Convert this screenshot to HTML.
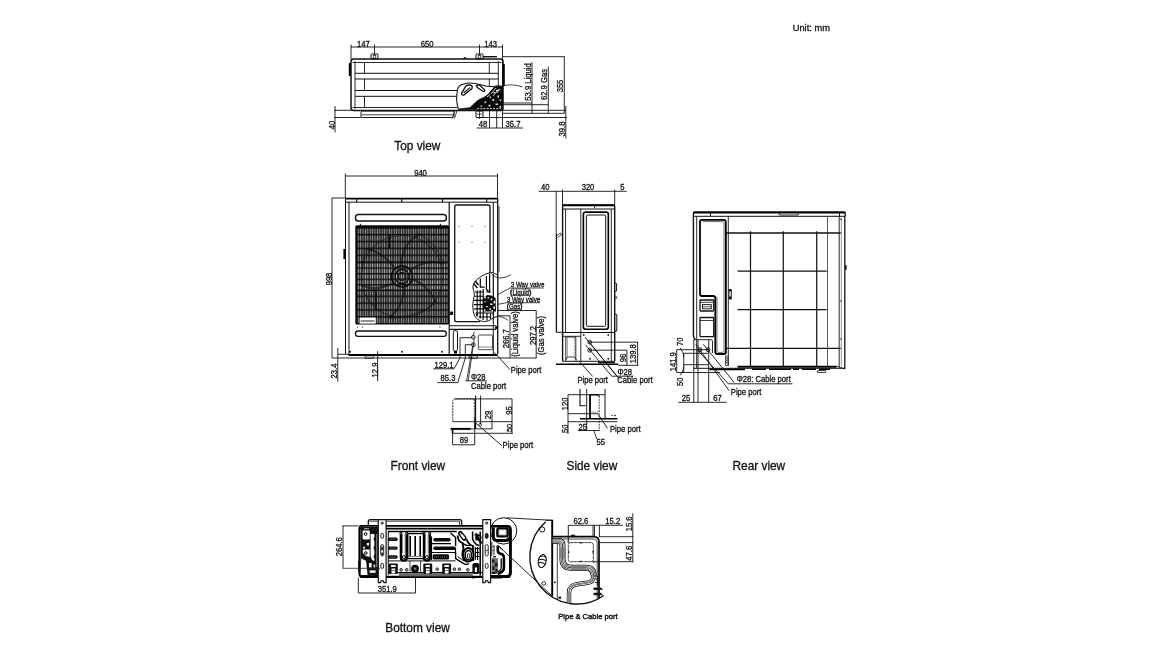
<!DOCTYPE html>
<html><head><meta charset="utf-8"><title>Dimensions</title>
<style>
html,body{margin:0;padding:0;background:#fff;}
body{width:1170px;height:649px;overflow:hidden;font-family:"Liberation Sans",sans-serif;}
svg{display:block;filter:grayscale(1);}
svg text{font-family:"Liberation Sans",sans-serif;fill:#111;}
</style></head><body>
<svg width="1170" height="649" viewBox="0 0 1170 649">
<rect x="0" y="0" width="1170" height="649" fill="#fff"/>
<g opacity="0.999">
<g id="labels">
<text x="792.7" y="30.7" font-size="9.3" text-anchor="start" stroke="#111" stroke-width="0.3" >Unit: mm</text>
<text x="394.3" y="149.8" font-size="11.85" text-anchor="start" stroke="#111" stroke-width="0.3" >Top view</text>
<text x="390.5" y="470" font-size="11.85" text-anchor="start" stroke="#111" stroke-width="0.3" >Front view</text>
<text x="566.5" y="470" font-size="11.85" text-anchor="start" stroke="#111" stroke-width="0.3" >Side view</text>
<text x="732.5" y="470" font-size="11.85" text-anchor="start" stroke="#111" stroke-width="0.3" >Rear view</text>
<text x="385.3" y="631.7" font-size="11.85" text-anchor="start" stroke="#111" stroke-width="0.3" >Bottom view</text>
<text x="558.2" y="619" font-size="7.6" stroke="#111" stroke-width="0.4" textLength="59.4" lengthAdjust="spacingAndGlyphs">Pipe &amp; Cable port</text>
</g>
<g id="top">
<line x1="351" y1="47" x2="503" y2="47" stroke="#111" stroke-width="0.9" />
<line x1="351" y1="44.5" x2="351" y2="59" stroke="#111" stroke-width="0.9" />
<line x1="374.5" y1="44.5" x2="374.5" y2="55" stroke="#111" stroke-width="0.9" />
<line x1="479.5" y1="44.5" x2="479.5" y2="55" stroke="#111" stroke-width="0.9" />
<line x1="502.5" y1="44.5" x2="502.5" y2="128" stroke="#111" stroke-width="0.9" />
<text transform="translate(363.4 46.5) scale(0.912 1)" font-size="8.40" text-anchor="middle" stroke="#111" stroke-width="0.3" >147</text>
<text transform="translate(427.2 46.5) scale(0.912 1)" font-size="8.40" text-anchor="middle" stroke="#111" stroke-width="0.3" >650</text>
<text transform="translate(490.6 46.5) scale(0.912 1)" font-size="8.40" text-anchor="middle" stroke="#111" stroke-width="0.3" >143</text>
<rect x="371" y="54" width="7" height="5" rx="0.5" stroke="#111" stroke-width="1.0" fill="none" />
<rect x="373.2" y="55.5" width="2.6" height="2.6" rx="0" stroke="#111" stroke-width="0.7" fill="none" />
<rect x="476" y="54" width="7" height="5" rx="0.5" stroke="#111" stroke-width="1.0" fill="none" />
<rect x="478.2" y="55.5" width="2.6" height="2.6" rx="0" stroke="#111" stroke-width="0.7" fill="none" />
<path d="M463.5 59 q1.5 -3 3 0" stroke="#111" stroke-width="1.2" fill="none" />
<line x1="483" y1="56.7" x2="497" y2="56.7" stroke="#111" stroke-width="1.4" />
<rect x="351" y="59" width="152" height="51.5" rx="2.5" stroke="#111" stroke-width="1.5" fill="none" />
<line x1="352.5" y1="62.5" x2="501.5" y2="62.5" stroke="#111" stroke-width="0.9" />
<line x1="352.5" y1="107.5" x2="457" y2="107.5" stroke="#111" stroke-width="0.9" />
<line x1="355" y1="61" x2="355" y2="109" stroke="#111" stroke-width="0.9" />
<line x1="498.3" y1="61" x2="498.3" y2="86" stroke="#111" stroke-width="0.9" />
<line x1="355" y1="73.3" x2="498.3" y2="73.3" stroke="#111" stroke-width="1.0" />
<line x1="355" y1="79" x2="498.3" y2="79" stroke="#111" stroke-width="1.0" />
<line x1="355" y1="90.5" x2="457.5" y2="90.5" stroke="#111" stroke-width="1.0" />
<line x1="355" y1="96.3" x2="457.5" y2="96.3" stroke="#111" stroke-width="1.0" />
<line x1="364.5" y1="62.5" x2="364.5" y2="73.3" stroke="#111" stroke-width="0.9" />
<line x1="364.5" y1="79" x2="364.5" y2="90.5" stroke="#111" stroke-width="0.9" />
<line x1="364.5" y1="96.3" x2="364.5" y2="107.5" stroke="#111" stroke-width="0.9" />
<line x1="489.3" y1="62.5" x2="489.3" y2="73.3" stroke="#111" stroke-width="0.9" />
<line x1="489.3" y1="79" x2="489.3" y2="86" stroke="#111" stroke-width="0.9" />
<line x1="349.8" y1="63" x2="349.8" y2="76" stroke="#000" stroke-width="2.0" />
<line x1="503.8" y1="64" x2="503.8" y2="86" stroke="#000" stroke-width="2.0" />
<rect x="361" y="111" width="93" height="6.5" rx="1.5" stroke="#111" stroke-width="1.0" fill="none" />
<line x1="362" y1="114.8" x2="453" y2="114.8" stroke="#111" stroke-width="0.8" />
<line x1="455" y1="110.5" x2="452" y2="118.5" stroke="#111" stroke-width="0.8" />
<line x1="457" y1="110.5" x2="454.5" y2="118.5" stroke="#111" stroke-width="0.8" />
<line x1="334" y1="110.3" x2="351" y2="110.3" stroke="#111" stroke-width="0.9" />
<line x1="334" y1="117.5" x2="361" y2="117.5" stroke="#111" stroke-width="0.9" />
<line x1="335" y1="106" x2="335" y2="132.5" stroke="#111" stroke-width="0.9" />
<text transform="translate(331.5 125) rotate(-90) scale(0.912 1)" font-size="8.40" text-anchor="middle" dy="3.02" stroke="#111" stroke-width="0.3" >40</text>
<path d="M457.5 90 C458 86 461 84.5 463.5 84 C468 82.5 474 82.8 481.7 85 C486 86.3 490 87 494 86.3 C497 85.7 500 85.6 502.5 86.5 L502.5 109.3 L458.5 109.3 C456.5 104 456.3 96 457.5 90 Z" stroke="#111" stroke-width="1.1" fill="#fff" />
<path d="M459.5 109 L470 107.6 C474 104 477 100 481 98.6 C485 97 488 95 490 92 C491 89 493 87.6 496 86.6 L502.3 86.4 L502.3 109.2 Z" stroke="#000" stroke-width="0.5" fill="#0a0a0a" />
<path d="M489 92 l4 -4 M491 94 l5 -6 M493 96 l6 -7 M487 97 l3 -2.6 M497 93 l3 -4" stroke="#fff" stroke-width="0.8" fill="none" />
<path d="M461.6 93.2 L466.2 85.6 Q470 84.2 472.2 86.2 L472 88.6 L464 95 Q461 95.6 461.6 93.2 Z" stroke="#111" stroke-width="1.3" fill="#fff" />
<path d="M463.6 93 L470 87.6" stroke="#111" stroke-width="1.2" fill="none" />
<path d="M476.4 85.6 Q478.4 84.2 480 85.6 L484.6 89.8 Q485 92 482.8 91.2 L477.4 87.6 Z" stroke="#111" stroke-width="1.3" fill="#fff" />
<line x1="477" y1="108.5" x2="501" y2="108.5" stroke="#fff" stroke-width="0.7" stroke-dasharray="2 1.2"/>
<rect x="484.5" y="101.5" width="1.6" height="1.6" fill="#fff" opacity="0.92"/>
<rect x="488.5" y="104.8" width="2" height="1.6" fill="#fff" opacity="0.92"/>
<rect x="492.5" y="99" width="1.6" height="2" fill="#fff" opacity="0.92"/>
<rect x="495.5" y="103.5" width="2.4" height="1.4" fill="#fff" opacity="0.92"/>
<rect x="497.5" y="95.5" width="1.5" height="2" fill="#fff" opacity="0.92"/>
<rect x="493.5" y="92" width="1.8" height="1.2" fill="#fff" opacity="0.92"/>
<rect x="489.5" y="96.5" width="1.4" height="1.4" fill="#fff" opacity="0.92"/>
<rect x="480.5" y="105.5" width="1.6" height="1.2" fill="#fff" opacity="0.92"/>
<rect x="499.5" y="106" width="1.6" height="1.6" fill="#fff" opacity="0.92"/>
<rect x="496" y="90" width="2" height="1" fill="#fff" opacity="0.92"/>
<rect x="499.8" y="99.5" width="1.4" height="1.6" fill="#fff" opacity="0.92"/>
<rect x="476" y="111" width="7" height="6.5" rx="0.5" stroke="#111" stroke-width="1.0" fill="none" />
<line x1="479.5" y1="109.5" x2="479.5" y2="119" stroke="#111" stroke-width="0.8" />
<line x1="477" y1="114.2" x2="482" y2="114.2" stroke="#111" stroke-width="0.7" />
<line x1="502.5" y1="56.7" x2="564.7" y2="56.7" stroke="#111" stroke-width="0.9" />
<line x1="564.3" y1="56.7" x2="564.3" y2="113.3" stroke="#111" stroke-width="0.9" />
<line x1="565.8" y1="106" x2="565.8" y2="138.3" stroke="#111" stroke-width="0.9" />
<text transform="translate(560.3 86) rotate(-90) scale(0.912 1)" font-size="8.40" text-anchor="middle" dy="3.02" stroke="#111" stroke-width="0.3" >355</text>
<line x1="548.3" y1="66.7" x2="548.3" y2="113.3" stroke="#111" stroke-width="0.9" />
<text transform="translate(544 84.5) rotate(-90) scale(0.912 1)" font-size="8.40" text-anchor="middle" dy="3.02" stroke="#111" stroke-width="0.3" >62.9 Gas</text>
<line x1="532" y1="62" x2="532" y2="113.3" stroke="#111" stroke-width="0.9" />
<text transform="translate(528 82) rotate(-90) scale(0.912 1)" font-size="8.40" text-anchor="middle" dy="3.02" stroke="#111" stroke-width="0.3" >53.9 Liquid</text>
<line x1="502.5" y1="103" x2="532" y2="103" stroke="#111" stroke-width="0.9" />
<line x1="502.5" y1="104.7" x2="548.3" y2="104.7" stroke="#111" stroke-width="0.9" />
<line x1="476" y1="110.3" x2="566" y2="110.3" stroke="#111" stroke-width="0.9" />
<line x1="502.5" y1="113.3" x2="564.5" y2="113.3" stroke="#111" stroke-width="0.9" />
<line x1="476" y1="117.5" x2="566.7" y2="117.5" stroke="#111" stroke-width="0.9" />
<line x1="489.5" y1="110.5" x2="489.5" y2="128" stroke="#111" stroke-width="0.9" />
<line x1="496.7" y1="110.5" x2="496.7" y2="128" stroke="#111" stroke-width="0.9" />
<line x1="476.7" y1="128" x2="523" y2="128" stroke="#111" stroke-width="0.9" />
<text transform="translate(483 127.1) scale(0.912 1)" font-size="8.40" text-anchor="middle" stroke="#111" stroke-width="0.3" >48</text>
<text transform="translate(513 127.1) scale(0.912 1)" font-size="8.40" text-anchor="middle" stroke="#111" stroke-width="0.3" >35.7</text>
<text transform="translate(561.7 129) rotate(-90) scale(0.912 1)" font-size="8.40" text-anchor="middle" dy="3.02" stroke="#111" stroke-width="0.3" >39.8</text>
<path d="M502.5 86 C509 84.2 516 84.8 522.5 86.8" stroke="#111" stroke-width="0.8" fill="none" />
</g>
<g id="front">
<line x1="345.3" y1="176" x2="497.5" y2="176" stroke="#111" stroke-width="0.9" />
<line x1="345.3" y1="173.5" x2="345.3" y2="198" stroke="#111" stroke-width="0.9" />
<line x1="497.5" y1="173.5" x2="497.5" y2="198" stroke="#111" stroke-width="0.9" />
<text transform="translate(420.5 175.7) scale(0.912 1)" font-size="8.40" text-anchor="middle" stroke="#111" stroke-width="0.3" >940</text>
<line x1="332" y1="198" x2="345.3" y2="198" stroke="#111" stroke-width="0.9" />
<line x1="332" y1="198" x2="332" y2="358" stroke="#111" stroke-width="0.9" />
<text transform="translate(328.5 279) rotate(-90) scale(0.912 1)" font-size="8.40" text-anchor="middle" dy="3.02" stroke="#111" stroke-width="0.3" >998</text>
<line x1="332" y1="358" x2="536.7" y2="358" stroke="#111" stroke-width="0.9" />
<line x1="337.8" y1="348" x2="337.8" y2="381.6" stroke="#111" stroke-width="0.9" />
<text transform="translate(334 371) rotate(-90) scale(0.912 1)" font-size="8.40" text-anchor="middle" dy="3.02" stroke="#111" stroke-width="0.3" >23.4</text>
<line x1="377.6" y1="351.2" x2="377.6" y2="381.2" stroke="#111" stroke-width="0.9" />
<text transform="translate(374.6 370) rotate(-90) scale(0.912 1)" font-size="8.40" text-anchor="middle" dy="3.02" stroke="#111" stroke-width="0.3" >12.9</text>
<line x1="345.3" y1="198.6" x2="497.5" y2="198.6" stroke="#000" stroke-width="1.7" />
<line x1="345.3" y1="202.2" x2="497.5" y2="202.2" stroke="#111" stroke-width="1.0" />
<line x1="356.7" y1="198.5" x2="356.7" y2="202.2" stroke="#111" stroke-width="1.2" />
<line x1="401.7" y1="198.5" x2="401.7" y2="202.2" stroke="#111" stroke-width="1.2" />
<line x1="442.5" y1="198.5" x2="442.5" y2="202.2" stroke="#111" stroke-width="1.2" />
<line x1="486.7" y1="198.5" x2="486.7" y2="202.2" stroke="#111" stroke-width="1.2" />
<line x1="345.5" y1="198" x2="345.5" y2="354" stroke="#111" stroke-width="1.0" />
<line x1="349" y1="202" x2="349" y2="354" stroke="#111" stroke-width="1.0" />
<line x1="493.3" y1="202" x2="493.3" y2="354" stroke="#111" stroke-width="1.0" />
<line x1="497.7" y1="198" x2="497.7" y2="354" stroke="#111" stroke-width="1.3" />
<line x1="499" y1="206" x2="499" y2="272" stroke="#111" stroke-width="0.8" />
<line x1="344.3" y1="249" x2="344.3" y2="259" stroke="#000" stroke-width="1.8" />
<line x1="348.5" y1="355" x2="497.5" y2="355" stroke="#000" stroke-width="2.1" />
<line x1="337.8" y1="354.3" x2="349" y2="354.3" stroke="#111" stroke-width="0.9" />
<rect x="365.2" y="355.8" width="8.4" height="2.5" rx="0.3" stroke="#111" stroke-width="0.8" fill="none" />
<rect x="469" y="355.8" width="8.4" height="2.5" rx="0.3" stroke="#111" stroke-width="0.8" fill="none" />
<rect x="355.5" y="214.5" width="90.8" height="6.5" rx="2.8" stroke="#111" stroke-width="1.4" fill="none" />
<rect x="355.5" y="331" width="90.8" height="5.4" rx="2.4" stroke="#111" stroke-width="1.3" fill="none" />
<rect x="349.2" y="351" width="1.6" height="1.6" fill="#000"/>
<rect x="401.2" y="351" width="1.6" height="1.6" fill="#000"/>
<rect x="441.2" y="351" width="1.6" height="1.6" fill="#000"/>
<rect x="357.0" y="326.7" width="1" height="1" fill="#222"/>
<rect x="362.0" y="326.7" width="1" height="1" fill="#222"/>
<rect x="439.5" y="326.7" width="1" height="1" fill="#222"/>
<line x1="360.5" y1="223.8" x2="360.5" y2="226" stroke="#111" stroke-width="1.2" />
<line x1="440.5" y1="223.8" x2="440.5" y2="226" stroke="#111" stroke-width="1.2" />
<defs><pattern id="gr" x="357.0" y="227.1" width="2.4" height="6.85" patternUnits="userSpaceOnUse"><rect x="0.62" y="1.4" width="1.16" height="5.4" fill="#fff"/></pattern><clipPath id="grc"><rect x="355.3" y="225.3" width="93.9" height="99.1" rx="1.5"/></clipPath></defs>
<rect x="355.3" y="225.3" width="93.9" height="99.1" rx="1.5" fill="#0b0b0b"/>
<rect x="357.2" y="228.4" width="90.8" height="95" fill="url(#gr)" opacity="0.6"/>
<defs><pattern id="gr2" x="357.0" y="261.9" width="2.4" height="5.56" patternUnits="userSpaceOnUse"><rect x="0.6" y="1.35" width="1.2" height="4.2" fill="#fff"/></pattern></defs>
<rect x="357" y="261.9" width="91.2" height="29.2" fill="#0b0b0b"/>
<rect x="357.2" y="261.9" width="90.8" height="27.8" fill="url(#gr2)" opacity="0.72"/>
<g clip-path="url(#grc)" fill="none" stroke="#0c0c0c">
<circle cx="402" cy="276.5" r="10.5" stroke-width="1.6"/><circle cx="402" cy="276.5" r="7" stroke-width="1.3"/><circle cx="402" cy="276.5" r="3.8" stroke-width="1.2"/>
<circle cx="402" cy="276.5" r="41" stroke-width="1.2" opacity="0.5"/>
<path d="M394 267 C385 256 376 250 366 249 M401 265.5 C401 252 408 240 420 234 M410 270 C422 262 434 260 444 264 M411.5 279 C423 283 431 291 436 303 M404 286.5 C405 298 399 310 389 318 M393 283 C382 289 371 290 361 285" stroke-width="2.0" opacity="0.6"/>
<path d="M366 249 C362 262 362 274 361 285 M420 234 C430 240 440 252 444 264 M436 303 C424 312 406 318 389 318" stroke-width="1.3" opacity="0.45"/>
<path d="M389.2 235 L389.2 249 M376 290.6 L376 310" stroke-width="1.8" opacity="0.9"/>
</g>

<rect x="359.7" y="317.6" width="16" height="6" fill="#fff"/>
<line x1="360.5" y1="321" x2="374.5" y2="321" stroke="#222" stroke-width="1.0" />
<line x1="449.2" y1="202" x2="449.2" y2="354" stroke="#111" stroke-width="1.2" />
<path d="M480 321.7 L456.7 321.7 Q454.7 321.7 454.7 319.7 L454.7 207 Q454.7 205 456.7 205 L488 205 Q490 205 490 207 L490 274" stroke="#111" stroke-width="1.3" fill="none" />
<rect x="458.60" y="225.9" width="1.2" height="0.8" fill="#555"/>
<rect x="471.4" y="225.9" width="1.2" height="0.8" fill="#555"/>
<rect x="484.4" y="225.9" width="1.2" height="0.8" fill="#555"/>
<rect x="458.60" y="241.80" width="1.2" height="0.8" fill="#555"/>
<rect x="471.4" y="241.80" width="1.2" height="0.8" fill="#555"/>
<rect x="484.4" y="241.80" width="1.2" height="0.8" fill="#555"/>
<rect x="450" y="311.5" width="3.2" height="3.4" rx="1" fill="#000"/>
<path d="M450 325.8 L496 325.8 M450 329.4 L496 329.4" stroke="#111" stroke-width="1.1" fill="none" />
<circle cx="496.6" cy="327.6" r="1.6" fill="#000"/>
<rect x="453.3" y="330.6" width="4.2" height="20.6" rx="1.6" stroke="#111" stroke-width="1.0" fill="none" />
<rect x="454" y="351" width="3" height="2.6" fill="#000"/>
<rect x="478.3" y="335" width="14.2" height="14.7" rx="0.8" stroke="#333" stroke-width="0.9" fill="none" />
<line x1="478.3" y1="347" x2="492.5" y2="347" stroke="#555" stroke-width="0.7" />
<circle cx="473.3" cy="337.2" r="1.9" stroke="#111" stroke-width="0.9" fill="none"/>
<circle cx="473.3" cy="344.7" r="1.9" stroke="#111" stroke-width="0.9" fill="none"/>
<circle cx="473.3" cy="337.2" r="0.7" stroke="#111" stroke-width="0.5" fill="none"/>
<circle cx="473.3" cy="344.7" r="0.7" stroke="#111" stroke-width="0.5" fill="none"/>
<line x1="474.3" y1="331.5" x2="473.5" y2="335.3" stroke="#111" stroke-width="0.8" />
<path d="M433.3 368.8 L454 368.8 L460 358 L460 337.7 L471.5 337.7" stroke="#111" stroke-width="0.9" fill="none" />
<text transform="translate(444 368.1) scale(0.912 1)" font-size="8.40" text-anchor="middle" stroke="#111" stroke-width="0.3" >129.1</text>
<path d="M437.4 382.6 L457.8 382.6 L465.3 358 L465.3 344.7 L471.5 344.7" stroke="#111" stroke-width="0.9" fill="none" />
<text transform="translate(448 381.3) scale(0.912 1)" font-size="8.40" text-anchor="middle" stroke="#111" stroke-width="0.3" >85.3</text>
<path d="M472.6 346.5 L466.6 380.8 M474.2 339 L468.2 380.8" stroke="#111" stroke-width="0.8" fill="none" />
<line x1="465.6" y1="380.8" x2="486.7" y2="380.8" stroke="#111" stroke-width="0.9" />
<text transform="translate(471 379.8) scale(0.912 1)" font-size="8.40" text-anchor="start" stroke="#111" stroke-width="0.3" >&#934;28</text>
<text transform="translate(471 388.6) scale(0.912 1)" font-size="8.40" text-anchor="start" stroke="#111" stroke-width="0.3" >Cable port</text>
<line x1="494.5" y1="352.5" x2="510" y2="369.7" stroke="#111" stroke-width="0.9" />
<text transform="translate(510.8 373) scale(0.912 1)" font-size="8.40" text-anchor="start" stroke="#111" stroke-width="0.3" >Pipe port</text>
<path d="M493.3 297.2 L510 288 L543.7 288" stroke="#111" stroke-width="0.8" fill="none" />
<text transform="translate(510.8 287) scale(0.912 1)" font-size="6.83" text-anchor="start" stroke="#111" stroke-width="0.3" >3 Way valve</text>
<rect x="510.6" y="288.9" width="20.2" height="6.6" rx="2.2" stroke="#111" stroke-width="0.7" fill="none" />
<text transform="translate(520.7 294.6) scale(0.912 1)" font-size="6.83" text-anchor="middle" stroke="#111" stroke-width="0.3" >(Liquid)</text>
<path d="M495.8 304.7 L506.7 302.7 L540 302.7" stroke="#111" stroke-width="0.8" fill="none" />
<text transform="translate(506.7 301.5) scale(0.912 1)" font-size="6.83" text-anchor="start" stroke="#111" stroke-width="0.3" >3 Way valve</text>
<rect x="507.5" y="303.2" width="14.2" height="6.5" rx="2.2" stroke="#111" stroke-width="0.7" fill="none" />
<text transform="translate(514.6 308.9) scale(0.912 1)" font-size="6.83" text-anchor="middle" stroke="#111" stroke-width="0.3" >(Gas)</text>
<path d="M495.8 310.5 L536.2 310.5 L536.2 358" stroke="#111" stroke-width="0.9" fill="none" />
<path d="M493 315.8 L510 315.8 L510 358" stroke="#111" stroke-width="0.9" fill="none" />
<path d="M493.3 317.2 C498 316 503 316.3 507.8 320.3" stroke="#111" stroke-width="0.8" fill="none" />
<text transform="translate(505.5 338.8) rotate(-90) scale(0.912 1)" font-size="8.40" text-anchor="middle" dy="3.02" stroke="#111" stroke-width="0.3" >266.7</text>
<text transform="translate(515.3 334) rotate(-90) scale(0.912 1)" font-size="8.40" text-anchor="middle" dy="3.02" stroke="#111" stroke-width="0.3" >(Liquid valve)</text>
<text transform="translate(532.5 335.5) rotate(-90) scale(0.912 1)" font-size="8.40" text-anchor="middle" dy="3.02" stroke="#111" stroke-width="0.3" >297.2</text>
<text transform="translate(541 335.5) rotate(-90) scale(0.912 1)" font-size="8.40" text-anchor="middle" dy="3.02" stroke="#111" stroke-width="0.3" >(Gas valve)</text>
<path d="M490 272.7 C484 274 480 277 476.7 279.7 C474 283 472.6 285 473 288 C473.6 291 474.8 293.5 474.2 296.3 C473 301 472.2 306 473.3 311.3 C474 315 475.5 318.5 478.3 319.7 C481 321.5 484 321.8 486.7 321.3 C490 320.5 491.5 319 493.3 318 C495 317 496.5 316.6 497.7 316.3 L497.7 274.7 C496 274.5 494.5 273.5 493.3 272.7 Z" stroke="#111" stroke-width="1.0" fill="#fff" />
<path d="M491.5 273.5 C496 279 503 279.5 510.8 274.7" stroke="#111" stroke-width="0.8" fill="none" />
<g stroke="#0a0a0a" fill="none">
<path d="M480.3 278.5 L480.3 287.2 L484.6 287.2 M489.6 273.5 L489.6 293 M486.4 276 L486.4 290 M493.3 274 L493.3 318" stroke-width="1.2"/>
<path d="M473.8 283.6 l3.6 4.4 M475.2 281 l3.4 4" stroke-width="1.5"/>
<path d="M475 292 L484 292 M474.5 296.2 L484 296.2 M474 300.4 L484 300.4 M473.8 304.6 L484 304.6 M474 308.8 L484 308.8 M475.5 313 L494 313 M478.5 317 L491 317 M477.2 290.5 L477.2 316.5 M480.2 290 L480.2 318.5 M483.2 289 L483.2 320 M487 313 L487 320.5 M490.5 313 L490.5 319" stroke-width="1.15"/>
</g>
<path d="M484 297 L487.4 295 L491.4 295.4 L495.6 298 L496 311.6 L483 311.6 L482.6 304 Z" fill="#0a0a0a"/>
<path d="M486.6 289.5 L490 289.5 L490.6 292.6 L486.6 292.6 Z" fill="#0a0a0a"/>
<rect x="484.2" y="296.6" width="1.8" height="1.6" fill="#fff"/>
<rect x="487.6" y="297.2" width="1.4" height="1.2" fill="#fff"/>
<rect x="490.6" y="298.6" width="1.8" height="1.6" fill="#fff"/>
<rect x="493.6" y="300.8" width="1.6" height="2.6" fill="#fff"/>
<rect x="484.6" y="301.2" width="1.2" height="1.2" fill="#fff"/>
<rect x="490.2" y="303.4" width="2.2" height="1.6" fill="#fff"/>
<rect x="486.2" y="306" width="1.6" height="1.2" fill="#fff"/>
<rect x="493.4" y="306.4" width="1.6" height="2.4" fill="#fff"/>
<rect x="489.4" y="308.4" width="1.6" height="1.6" fill="#fff"/>
<rect x="484" y="309.6" width="1.4" height="1.4" fill="#fff"/>
<rect x="491.6" y="310" width="1.4" height="1.4" fill="#fff"/>
<rect x="487" y="294" width="1.4" height="1" fill="#fff"/>
<rect x="488" y="289.6" width="1.2" height="1" fill="#fff"/>
<rect x="476" y="313.4" width="1.4" height="2.6" fill="#111"/>
<g id="fdetail">
<path d="M452.8 421.7 L452.8 401.5 Q452.8 398.9 455.4 398.9 L474.4 398.9" stroke="#222" stroke-width="0.9" fill="none" stroke-dasharray="2.2 0.7"/>
<line x1="474.4" y1="398.9" x2="474.4" y2="421.7" stroke="#222" stroke-width="0.9" stroke-dasharray="2.2 0.7"/>
<line x1="455" y1="398.9" x2="512.2" y2="398.9" stroke="#111" stroke-width="0.9" />
<line x1="475.6" y1="395.6" x2="475.6" y2="428.5" stroke="#111" stroke-width="1.1" />
<line x1="475.2" y1="418" x2="475.2" y2="428.5" stroke="#000" stroke-width="1.6" />
<line x1="480.6" y1="395.6" x2="480.6" y2="424.4" stroke="#111" stroke-width="0.9" />
<line x1="452.8" y1="421.7" x2="512.2" y2="421.7" stroke="#111" stroke-width="0.9" />
<line x1="450.6" y1="428.9" x2="470.6" y2="428.9" stroke="#000" stroke-width="2.0" />
<line x1="470.6" y1="428.9" x2="492.2" y2="428.9" stroke="#111" stroke-width="0.9" />
<line x1="452.5" y1="429" x2="452.5" y2="433" stroke="#000" stroke-width="1.6" />
<line x1="452" y1="433.3" x2="512.8" y2="433.3" stroke="#111" stroke-width="0.9" />
<line x1="512" y1="398.9" x2="512" y2="433.9" stroke="#111" stroke-width="0.9" />
<line x1="492" y1="410" x2="492" y2="428.9" stroke="#111" stroke-width="0.9" />
<text transform="translate(487.8 415) rotate(-90) scale(0.912 1)" font-size="8.40" text-anchor="middle" dy="3.02" stroke="#111" stroke-width="0.3" >29</text>
<text transform="translate(508.9 410.6) rotate(-90) scale(0.912 1)" font-size="8.40" text-anchor="middle" dy="3.02" stroke="#111" stroke-width="0.3" >95</text>
<text transform="translate(508.9 428) rotate(-90) scale(0.912 1)" font-size="8.06" text-anchor="middle" dy="2.90" stroke="#111" stroke-width="0.3" >50</text>
<path d="M452.6 429.4 L452.6 444.8 L474.7 444.8 L474.7 421.7" stroke="#111" stroke-width="0.9" fill="none" />
<text transform="translate(464 443.4) scale(0.912 1)" font-size="8.40" text-anchor="middle" stroke="#111" stroke-width="0.3" >89</text>
<line x1="475.6" y1="422.8" x2="501.7" y2="445.6" stroke="#111" stroke-width="0.9" />
<circle cx="480.3" cy="424.6" r="1.3" stroke="#111" stroke-width="0.7" fill="none"/>
<text transform="translate(502.6 448.3) scale(0.912 1)" font-size="8.40" text-anchor="start" stroke="#111" stroke-width="0.3" >Pipe port</text>
</g>
</g>
<g id="side">
<line x1="538.7" y1="191.3" x2="626.7" y2="191.3" stroke="#111" stroke-width="0.9" />
<text transform="translate(545.3 190.2) scale(0.912 1)" font-size="8.40" text-anchor="middle" stroke="#111" stroke-width="0.3" >40</text>
<text transform="translate(588 190.2) scale(0.912 1)" font-size="8.40" text-anchor="middle" stroke="#111" stroke-width="0.3" >320</text>
<text transform="translate(622.5 190.2) scale(0.912 1)" font-size="8.40" text-anchor="middle" stroke="#111" stroke-width="0.3" >5</text>
<line x1="556.2" y1="191.3" x2="556.2" y2="234" stroke="#111" stroke-width="0.9" />
<line x1="556.4" y1="234" x2="556.4" y2="332" stroke="#111" stroke-width="1.3" />
<line x1="562.5" y1="189.5" x2="562.5" y2="205" stroke="#111" stroke-width="0.9" />
<line x1="614.7" y1="189.5" x2="614.7" y2="205" stroke="#111" stroke-width="0.9" />
<path d="M556.3 236 L560.5 233 L561.5 234.8 L557.5 237.6" stroke="#111" stroke-width="0.8" fill="none" />
<path d="M562.6 361.3 L562.6 206.5 Q562.6 205 564.1 205 L613.2 205 Q614.7 205 614.7 206.5 L614.7 361.3" stroke="#111" stroke-width="1.4" fill="none" />
<line x1="562.6" y1="205.3" x2="614.7" y2="205.3" stroke="#000" stroke-width="1.8" />
<line x1="562.6" y1="209" x2="614.7" y2="209" stroke="#111" stroke-width="1.0" />
<line x1="565.6" y1="209" x2="565.6" y2="332.5" stroke="#111" stroke-width="0.9" />
<line x1="611.3" y1="209" x2="611.3" y2="361.3" stroke="#111" stroke-width="0.9" />
<line x1="580.8" y1="209" x2="580.8" y2="361.3" stroke="#111" stroke-width="0.9" />
<rect x="594" y="206.4" width="1.2" height="1.6" fill="#111"/>
<rect x="583.4" y="212.1" width="24.9" height="117.2" rx="2.2" stroke="#000" stroke-width="1.6" fill="none" />
<rect x="586.4" y="215" width="19.3" height="111.3" rx="1.2" stroke="#111" stroke-width="1.0" fill="none" />
<line x1="556.3" y1="332.3" x2="562.6" y2="332.3" stroke="#111" stroke-width="1.0" />
<line x1="562.6" y1="332.5" x2="614.7" y2="332.5" stroke="#111" stroke-width="1.0" />
<line x1="562.6" y1="336.3" x2="580.8" y2="336.3" stroke="#111" stroke-width="0.9" />
<line x1="562.6" y1="361.3" x2="614.7" y2="361.3" stroke="#111" stroke-width="1.0" />
<line x1="556" y1="364.3" x2="618.3" y2="364.3" stroke="#000" stroke-width="1.5" />
<line x1="598" y1="362.6" x2="615" y2="362.6" stroke="#111" stroke-width="1.2" />
<path d="M565.8 360.5 L565.8 337 L575.8 337 L575.8 360.5" stroke="#111" stroke-width="0.9" fill="none" />
<line x1="567.3" y1="338" x2="567.3" y2="357" stroke="#555" stroke-width="0.6" />
<line x1="574.3" y1="338" x2="574.3" y2="357" stroke="#555" stroke-width="0.6" stroke-dasharray="1.5 0.8"/>
<path d="M565.8 360.5 L567.3 357 L574.3 357 L577 360.5" stroke="#111" stroke-width="0.8" fill="none" />
<path d="M614.7 283 L616.6 283.5 L616.6 291 L614.7 291.5" stroke="#111" stroke-width="1.0" fill="none" />
<circle cx="615.6" cy="297.5" r="1.2" stroke="#111" stroke-width="0.8" fill="none"/>
<path d="M614.7 314 L616.8 314.5 L616.8 331 L614.7 331.5" stroke="#111" stroke-width="1.0" fill="none" />
<rect x="582.90" y="334.2" width="1.6" height="1.6" fill="#111"/>
<rect x="607.5" y="334.2" width="1.6" height="1.6" fill="#111"/>
<rect x="589.2" y="358.0" width="1.6" height="1.6" fill="#111"/>
<rect x="607.5" y="358.0" width="1.6" height="1.6" fill="#111"/>
<circle cx="589.7" cy="342.2" r="1.9" stroke="#111" stroke-width="0.9" fill="none"/>
<circle cx="589.7" cy="350.2" r="1.9" stroke="#111" stroke-width="0.9" fill="none"/>
<circle cx="589.7" cy="342.2" r="0.7" stroke="#111" stroke-width="0.5" fill="none"/>
<circle cx="589.7" cy="350.2" r="0.7" stroke="#111" stroke-width="0.5" fill="none"/>
<line x1="589.7" y1="342.2" x2="638.3" y2="342.2" stroke="#111" stroke-width="0.9" />
<line x1="589.7" y1="350.2" x2="627" y2="350.2" stroke="#111" stroke-width="0.9" />
<line x1="626.9" y1="350.2" x2="626.9" y2="365.5" stroke="#111" stroke-width="0.9" />
<line x1="637.6" y1="342.2" x2="637.6" y2="365.5" stroke="#111" stroke-width="0.9" />
<line x1="618.3" y1="365.3" x2="638.3" y2="365.3" stroke="#111" stroke-width="0.9" />
<text transform="translate(623.4 358) rotate(-90) scale(0.912 1)" font-size="8.40" text-anchor="middle" dy="3.02" stroke="#111" stroke-width="0.3" >96</text>
<text transform="translate(633.2 353.8) rotate(-90) scale(0.912 1)" font-size="8.40" text-anchor="middle" dy="3.02" stroke="#111" stroke-width="0.3" >139.8</text>
<line x1="579" y1="361" x2="592.5" y2="376.3" stroke="#111" stroke-width="0.9" />
<text transform="translate(577.4 382.8) scale(0.912 1)" font-size="8.40" text-anchor="start" stroke="#111" stroke-width="0.3" >Pipe port</text>
<path d="M585 337.2 L616.7 375.8 M585.4 344.7 L611.7 376.2 L633.3 376.2" stroke="#111" stroke-width="0.9" fill="none" />
<line x1="588" y1="340.8" x2="619.5" y2="379.3" stroke="#111" stroke-width="0.9" />
<text transform="translate(617.5 374.9) scale(0.912 1)" font-size="8.40" text-anchor="start" stroke="#111" stroke-width="0.3" >&#934;28</text>
<text transform="translate(617.3 382.7) scale(0.912 1)" font-size="8.40" text-anchor="start" stroke="#111" stroke-width="0.3" >Cable port</text>
<line x1="568" y1="394.7" x2="568" y2="434" stroke="#111" stroke-width="0.9" />
<line x1="568" y1="394.7" x2="605" y2="394.7" stroke="#111" stroke-width="0.9" />
<line x1="568" y1="413.7" x2="598" y2="413.7" stroke="#111" stroke-width="0.9" />
<line x1="580" y1="418.7" x2="617.5" y2="418.7" stroke="#000" stroke-width="1.6" />
<line x1="568" y1="421.7" x2="617.5" y2="421.7" stroke="#111" stroke-width="0.9" />
<path d="M580 389 L580 405.8 L585.8 405.8" stroke="#111" stroke-width="1.1" fill="none" />
<line x1="586.7" y1="389" x2="586.7" y2="430.8" stroke="#111" stroke-width="0.9" />
<line x1="590" y1="394.7" x2="590" y2="418.7" stroke="#000" stroke-width="1.8" />
<path d="M590 396 Q590 394.7 591.5 394.7 L597.5 394.7 Q599.2 394.7 599.2 396.5" stroke="#111" stroke-width="1.4" fill="none" />
<line x1="599.2" y1="396" x2="599.2" y2="430.8" stroke="#222" stroke-width="0.8" stroke-dasharray="2 0.8"/>
<line x1="605" y1="389" x2="605" y2="418.7" stroke="#111" stroke-width="1.0" />
<line x1="590" y1="412" x2="599" y2="412" stroke="#444" stroke-width="0.7" stroke-dasharray="1.5 0.8"/>
<line x1="578" y1="430.5" x2="599.5" y2="430.5" stroke="#111" stroke-width="0.9" />
<text transform="translate(582.8 430.1) scale(0.912 1)" font-size="8.40" text-anchor="middle" stroke="#111" stroke-width="0.3" >25</text>
<line x1="594" y1="430.8" x2="596.7" y2="439" stroke="#111" stroke-width="0.8" />
<text transform="translate(600.8 444.7) scale(0.912 1)" font-size="8.40" text-anchor="middle" stroke="#111" stroke-width="0.3" >55</text>
<line x1="598" y1="414" x2="607.5" y2="428.3" stroke="#111" stroke-width="0.9" />
<text transform="translate(610 431.8) scale(0.912 1)" font-size="8.40" text-anchor="start" stroke="#111" stroke-width="0.3" >Pipe port</text>
<text transform="translate(564.5 403.8) rotate(-90) scale(0.912 1)" font-size="8.40" text-anchor="middle" dy="3.02" stroke="#111" stroke-width="0.3" >120</text>
<text transform="translate(564.5 428.7) rotate(-90) scale(0.912 1)" font-size="8.40" text-anchor="middle" dy="3.02" stroke="#111" stroke-width="0.3" >50</text>
<line x1="611" y1="415.5" x2="613" y2="415.5" stroke="#111" stroke-width="0.6" />
<line x1="614" y1="415.5" x2="616" y2="415.5" stroke="#111" stroke-width="0.6" />
<line x1="615" y1="414.5" x2="615" y2="416.5" stroke="#111" stroke-width="0.6" />
</g>
<g id="rear">
<path d="M693.4 216.3 L693.4 213.8 Q693.4 212.2 695 212.2 L843.7 212.2 Q845.3 212.2 845.3 213.8 L845.3 216.3" stroke="#111" stroke-width="1.3" fill="none" />
<line x1="693.4" y1="212.5" x2="845.3" y2="212.5" stroke="#000" stroke-width="1.8" />
<line x1="693.4" y1="216.3" x2="845.3" y2="216.3" stroke="#111" stroke-width="1.0" />
<path d="M778.5 212.5 L779.5 215 L798 215 L799 212.5" stroke="#111" stroke-width="0.9" fill="none" />
<line x1="710.5" y1="212.5" x2="710.5" y2="216.3" stroke="#111" stroke-width="1.0" />
<line x1="839.5" y1="212.5" x2="839.5" y2="216.3" stroke="#111" stroke-width="1.0" />
<path d="M693.4 216.3 L693.4 335 Q693.6 338 695.2 339.7" stroke="#111" stroke-width="1.4" fill="none" />
<line x1="696.7" y1="216.3" x2="696.7" y2="368" stroke="#111" stroke-width="0.9" />
<line x1="844.8" y1="216.3" x2="844.8" y2="369" stroke="#111" stroke-width="1.3" />
<line x1="839.2" y1="216.3" x2="839.2" y2="368" stroke="#111" stroke-width="0.9" />
<line x1="827.5" y1="216.3" x2="827.5" y2="366" stroke="#333" stroke-width="0.8" />
<line x1="841.3" y1="218" x2="841.3" y2="366" stroke="#555" stroke-width="0.6" />
<rect x="845.2" y="265" width="1.4" height="5" rx="0.7" fill="#000"/>
<rect x="840.3" y="218.8" width="1.2" height="1.2" fill="#111"/>
<rect x="840.3" y="300.4" width="1.2" height="1.2" fill="#111"/>
<rect x="840.3" y="338.4" width="1.2" height="1.2" fill="#111"/>
<path d="M702 219.8 L723.8 219.8 Q725.8 219.8 725.8 221.8 L725.8 352 Q725.8 354 723.8 354 L717.3 354 Q715.3 354 715.3 352 L715.3 298 Q715.3 296 713.3 296 L702 296 Q700 296 700 294 L700 221.8 Q700 219.8 702 219.8 Z" stroke="#000" stroke-width="1.8" fill="none" />
<path d="M702.8 221.6 L722.6 221.6 Q724 221.6 724 223 L724 351 Q724 352.4 722.6 352.4 L718.4 352.4 Q717 352.4 717 351 L717 296.5" stroke="#333" stroke-width="0.7" fill="none" />
<line x1="728.3" y1="216.3" x2="728.3" y2="366" stroke="#111" stroke-width="0.9" />
<line x1="726" y1="233" x2="726" y2="354" stroke="#111" stroke-width="0.8" />
<rect x="728.6" y="289" width="3.2" height="10.5" rx="0.8" fill="#111"/>
<rect x="729.4" y="291.5" width="1.4" height="5" fill="#fff"/>
<rect x="700" y="300" width="13.7" height="11" rx="0.8" stroke="#111" stroke-width="1.3" fill="none" />
<line x1="700" y1="302.3" x2="713.7" y2="302.3" stroke="#111" stroke-width="0.8" />
<rect x="702.5" y="304.6" width="8.8" height="4.2" rx="0" stroke="#111" stroke-width="0.9" fill="none" />
<line x1="703" y1="306.7" x2="711" y2="306.7" stroke="#111" stroke-width="0.7" />
<rect x="700" y="317.5" width="13.7" height="19.2" rx="0.8" stroke="#111" stroke-width="1.3" fill="none" />
<line x1="700" y1="320.5" x2="713.7" y2="320.5" stroke="#111" stroke-width="0.8" />
<line x1="725.8" y1="233" x2="840.8" y2="233" stroke="#111" stroke-width="1.3" />
<line x1="737.5" y1="271.2" x2="826.7" y2="271.2" stroke="#111" stroke-width="1.2" />
<line x1="737.5" y1="309.7" x2="826.7" y2="309.7" stroke="#111" stroke-width="1.2" />
<line x1="725.8" y1="348.3" x2="840.8" y2="348.3" stroke="#111" stroke-width="1.3" />
<line x1="750.5" y1="231.3" x2="750.5" y2="366" stroke="#111" stroke-width="1.2" />
<line x1="783.3" y1="231.3" x2="783.3" y2="366" stroke="#111" stroke-width="1.2" />
<line x1="816.7" y1="231.3" x2="816.7" y2="366" stroke="#111" stroke-width="1.2" />
<line x1="737.5" y1="366.7" x2="836.7" y2="366.7" stroke="#000" stroke-width="2.0" />
<line x1="693.4" y1="368.3" x2="845" y2="368.3" stroke="#111" stroke-width="1.0" />
<line x1="752" y1="369.3" x2="830" y2="369.3" stroke="#000" stroke-width="1.6" stroke-dasharray="14 3 22 2 6 3"/>
<rect x="817.5" y="370.5" width="8.3" height="2" rx="0.5" stroke="#111" stroke-width="0.8" fill="none" />
<line x1="836.7" y1="366" x2="845" y2="369" stroke="#111" stroke-width="0.8" />
<rect x="725.5" y="356" width="2.6" height="9.5" fill="none" stroke="#111" stroke-width="0.7"/>
<line x1="726.8" y1="357.5" x2="726.8" y2="364" stroke="#111" stroke-width="1.2" stroke-dasharray="1.2 0.8"/>
<line x1="709.5" y1="369.4" x2="745" y2="369.4" stroke="#000" stroke-width="1.8" />
<path d="M693.4 339.7 L711 339.7 Q712.5 339.7 712.5 341.2 L712.5 353" stroke="#111" stroke-width="0.9" fill="none" />
<circle cx="700" cy="349.7" r="1.9" stroke="#111" stroke-width="0.9" fill="none"/>
<circle cx="708" cy="349.7" r="1.9" stroke="#111" stroke-width="0.9" fill="none"/>
<circle cx="700" cy="349.7" r="0.7" stroke="#111" stroke-width="0.5" fill="none"/>
<circle cx="708" cy="349.7" r="0.7" stroke="#111" stroke-width="0.5" fill="none"/>
<line x1="676.7" y1="349.7" x2="708" y2="349.7" stroke="#111" stroke-width="0.9" />
<line x1="683.3" y1="353.3" x2="708" y2="353.3" stroke="#111" stroke-width="0.9" />
<line x1="683.3" y1="364.7" x2="708" y2="364.7" stroke="#111" stroke-width="0.9" />
<line x1="676.7" y1="372.5" x2="720" y2="372.5" stroke="#111" stroke-width="0.9" />
<line x1="676.7" y1="349.7" x2="676.7" y2="372.5" stroke="#111" stroke-width="0.9" />
<line x1="683.8" y1="353.3" x2="683.8" y2="372.5" stroke="#111" stroke-width="0.9" />
<line x1="693.8" y1="340" x2="693.8" y2="402.3" stroke="#111" stroke-width="0.9" />
<line x1="698" y1="340" x2="698" y2="402.3" stroke="#111" stroke-width="0.9" />
<line x1="708.7" y1="340" x2="708.7" y2="402.3" stroke="#111" stroke-width="0.9" />
<line x1="678.3" y1="402.3" x2="726.7" y2="402.3" stroke="#111" stroke-width="0.9" />
<text transform="translate(686 401.1) scale(0.912 1)" font-size="8.40" text-anchor="middle" stroke="#111" stroke-width="0.3" >25</text>
<text transform="translate(717.5 401.1) scale(0.912 1)" font-size="8.40" text-anchor="middle" stroke="#111" stroke-width="0.3" >67</text>
<text transform="translate(679.5 341.7) rotate(-90) scale(0.912 1)" font-size="8.40" text-anchor="middle" dy="3.02" stroke="#111" stroke-width="0.3" >70</text>
<text transform="translate(673 361.7) rotate(-90) scale(0.912 1)" font-size="8.40" text-anchor="middle" dy="3.02" stroke="#111" stroke-width="0.3" >141.9</text>
<text transform="translate(679.5 381.7) rotate(-90) scale(0.912 1)" font-size="8.40" text-anchor="middle" dy="3.02" stroke="#111" stroke-width="0.3" >50</text>
<path d="M680.2 348 Q683.8 352.5 683.8 357 M683.8 366.5 Q683.8 371 680.2 375.2" stroke="#111" stroke-width="0.9" fill="none" />
<line x1="695.8" y1="344.2" x2="729.2" y2="390.8" stroke="#111" stroke-width="0.9" />
<text transform="translate(730.8 394.7) scale(0.912 1)" font-size="8.40" text-anchor="start" stroke="#111" stroke-width="0.3" >Pipe port</text>
<path d="M703.3 344.2 L734.2 382.5 M697.5 350 L728.3 383.8 L792.5 383.8" stroke="#111" stroke-width="0.9" fill="none" />
<text transform="translate(736.7 382.4) scale(0.912 1)" font-size="8.40" text-anchor="start" stroke="#111" stroke-width="0.3" >&#934;28: Cable port</text>
</g>
<g id="bottom">
<line x1="342.5" y1="525.9" x2="358.5" y2="525.9" stroke="#111" stroke-width="0.9" />
<line x1="343" y1="525.9" x2="343" y2="568.3" stroke="#111" stroke-width="0.9" />
<text transform="translate(338.8 546.7) rotate(-90) scale(0.912 1)" font-size="8.40" text-anchor="middle" dy="3.02" stroke="#111" stroke-width="0.3" >264.6</text>
<path d="M358.3 577.5 L358.3 593 L415.5 593 L415.5 571" stroke="#111" stroke-width="0.9" fill="none" />
<text transform="translate(387.2 591.6) scale(0.912 1)" font-size="8.40" text-anchor="middle" stroke="#111" stroke-width="0.3" >351.9</text>
<path d="M368.3 525.9 L368.3 521.6 Q368.3 519.6 370.3 519.6 L459.7 519.6 Q461.7 519.6 461.7 521.6 L461.7 525.9" stroke="#111" stroke-width="1.3" fill="#fff" />
<line x1="369.5" y1="521.2" x2="378" y2="521.2" stroke="#111" stroke-width="0.8" />
<line x1="386.5" y1="521.2" x2="459.5" y2="521.2" stroke="#111" stroke-width="0.8" />
<line x1="459.6" y1="521" x2="459.6" y2="526" stroke="#111" stroke-width="0.8" />
<path d="M361.5 525.9 L507 525.9 Q510.8 525.9 510.8 529.5 L510.8 573 Q510.8 576.8 507 576.8 L362.5 576.8 Q359.3 576.8 359.3 573.5 L359.3 529 Q359.3 525.9 361.5 525.9 Z" stroke="#000" stroke-width="1.8" fill="#fff" />
<line x1="360" y1="528.6" x2="491" y2="528.6" stroke="#000" stroke-width="1.7" />
<line x1="387.8" y1="531.5" x2="456.7" y2="531.5" stroke="#000" stroke-width="1.4" />
<line x1="360.5" y1="576.8" x2="510" y2="576.8" stroke="#000" stroke-width="2.2" />
<rect x="398.9" y="573.4" width="74" height="3" fill="#666"/>
<line x1="388" y1="572.6" x2="482" y2="572.6" stroke="#000" stroke-width="1.3" />
<path d="M360.3 527 L378.3 527 L378.3 576 L361 576 Q360.3 576 360.3 574 Z" fill="#111"/>
<rect x="362.6" y="530.4" width="7.2" height="9" rx="1" fill="#fff"/>
<circle cx="365.6" cy="534" r="1.4" stroke="#000" stroke-width="1.0" fill="#fff"/>
<rect x="366.8" y="543" width="2.2" height="2.4" fill="#fff"/><rect x="363" y="546.8" width="2" height="1.6" fill="#fff"/>
<path d="M362.8 549.5 L369.6 549.5 L369.6 557 L366 556 L362.8 553 Z" fill="#fff"/>
<circle cx="365.8" cy="553" r="1.3" stroke="#000" stroke-width="1.0" fill="#fff"/>
<path d="M370.6 534 L374.4 534 L374.4 536.8 Q372.6 539 374.4 541.4 L374.4 545.6 Q372.6 548 374.4 550.4 L374.4 554.4 Q372.8 556.5 374.4 558.6 L374.4 561 L372 560 L370.6 556 Z" fill="#fff"/>
<path d="M361.2 558.5 L366 560.8 L367.6 575 L361.6 575 Q360.8 575 360.8 574 Z" fill="#fff"/>
<rect x="369.6" y="570.4" width="6" height="2.4" fill="#fff"/><rect x="369" y="563" width="2.6" height="4.4" fill="#fff"/><rect x="373.6" y="564.5" width="1.6" height="3" fill="#ddd"/>
<rect x="376.2" y="534" width="1.2" height="33" fill="#888"/>
<rect x="364" y="528.3" width="5" height="0.9" fill="#ccc"/>
<rect x="358.3" y="561" width="2" height="11" fill="#000"/>
<line x1="389.5" y1="539.2" x2="396" y2="539.2" stroke="#0a0a0a" stroke-width="3.4" stroke-linecap="round"/>
<line x1="390" y1="539.2" x2="395.5" y2="539.2" stroke="#777" stroke-width="0.7" />
<line x1="389.5" y1="548.1" x2="396" y2="548.1" stroke="#0a0a0a" stroke-width="3.4" stroke-linecap="round"/>
<line x1="390" y1="548.1" x2="395.5" y2="548.1" stroke="#777" stroke-width="0.7" />
<line x1="389.5" y1="557" x2="396" y2="557" stroke="#0a0a0a" stroke-width="3.4" stroke-linecap="round"/>
<line x1="390" y1="557" x2="395.5" y2="557" stroke="#777" stroke-width="0.7" />
<line x1="388.3" y1="532" x2="388.3" y2="575" stroke="#111" stroke-width="1.1" />
<path d="M400.90 532 L400.90 557.5 Q400.90 560.6 403.8 560.6 Q406.7 560.6 406.7 557.5 L406.7 532" stroke="#000" stroke-width="2.4" fill="none" />
<path d="M402.5 534 L402.5 553 M405.1 534 L405.1 553" stroke="#444" stroke-width="0.6" fill="none" />
<circle cx="403.8" cy="557" r="1.5" stroke="#000" stroke-width="1.0" fill="#fff"/>
<circle cx="400.90" cy="533.3" r="0.9" stroke="#000" stroke-width="0.8" fill="#fff"/>
<circle cx="406.7" cy="533.3" r="0.9" stroke="#000" stroke-width="0.8" fill="#fff"/>
<path d="M424.0 532 L424.0 557.5 Q424.0 560.6 426.9 560.6 Q429.80 560.6 429.80 557.5 L429.80 532" stroke="#000" stroke-width="2.4" fill="none" />
<path d="M425.60 534 L425.60 553 M428.2 534 L428.2 553" stroke="#444" stroke-width="0.6" fill="none" />
<circle cx="426.9" cy="557" r="1.5" stroke="#000" stroke-width="1.0" fill="#fff"/>
<circle cx="424.0" cy="533.3" r="0.9" stroke="#000" stroke-width="0.8" fill="#fff"/>
<circle cx="429.80" cy="533.3" r="0.9" stroke="#000" stroke-width="0.8" fill="#fff"/>
<rect x="407.8" y="533.7" width="16.1" height="25" rx="0.8" stroke="#000" stroke-width="1.3" fill="none" />
<line x1="410.2" y1="536" x2="410.2" y2="556" stroke="#000" stroke-width="1.6" />
<line x1="415.2" y1="536" x2="415.2" y2="556" stroke="#000" stroke-width="1.6" />
<line x1="420.2" y1="536" x2="420.2" y2="556" stroke="#000" stroke-width="1.6" />
<line x1="408" y1="556.6" x2="424" y2="556.6" stroke="#444" stroke-width="0.7" />
<line x1="435" y1="539.8" x2="449" y2="539.8" stroke="#0a0a0a" stroke-width="3.4" stroke-linecap="round"/>
<line x1="435" y1="548.2" x2="454" y2="548.2" stroke="#0a0a0a" stroke-width="3.4" stroke-linecap="round"/>
<rect x="432.6" y="554.2" width="16.5" height="5.4" rx="1.5" fill="#0a0a0a"/>
<line x1="434" y1="557" x2="447.5" y2="557" stroke="#888" stroke-width="0.7" stroke-dasharray="1 1"/>
<path d="M431.5 536.5 L431.5 560 M431.5 543.6 L451 543.6 M431.5 552.5 L455.5 552.5 L455.5 548" stroke="#000" stroke-width="1.2" fill="none" />
<path d="M450.6 533 L455.6 537.6 L455.6 546.3 M455.6 552.5 L455.6 558.7 L463 563.2 Q466 565.5 469 563.5" stroke="#000" stroke-width="1.4" fill="none" />
<path d="M457.5 556.5 L464 561" stroke="#111" stroke-width="1.0" fill="none" />
<line x1="388.9" y1="560.9" x2="455.6" y2="560.9" stroke="#111" stroke-width="1.0" />
<line x1="410" y1="560.9" x2="410" y2="573" stroke="#111" stroke-width="0.8" />
<line x1="420.6" y1="560.9" x2="420.6" y2="573" stroke="#111" stroke-width="0.8" />
<rect x="388.9" y="563.4" width="8.9" height="10.6" rx="1.2" fill="#0d0d0d"/>
<rect x="391.10" y="565" width="4.5" height="2" fill="#fff"/><rect x="391.5" y="568.5" width="3.7" height="5" fill="#fff"/>
<line x1="391.5" y1="570.6" x2="395.2" y2="570.6" stroke="#333" stroke-width="0.7" />
<rect x="423.3" y="563.4" width="8.9" height="10.6" rx="1.2" fill="#0d0d0d"/>
<rect x="425.5" y="565" width="4.5" height="2" fill="#fff"/><rect x="425.90" y="568.5" width="3.7" height="5" fill="#fff"/>
<line x1="425.90" y1="570.6" x2="429.6" y2="570.6" stroke="#333" stroke-width="0.7" />
<rect x="442.2" y="563.4" width="8.9" height="10.6" rx="1.2" fill="#0d0d0d"/>
<rect x="444.4" y="565" width="4.5" height="2" fill="#fff"/><rect x="444.8" y="568.5" width="3.7" height="5" fill="#fff"/>
<line x1="444.8" y1="570.6" x2="448.5" y2="570.6" stroke="#333" stroke-width="0.7" />
<circle cx="415" cy="568.7" r="3.0" stroke="#000" stroke-width="1.8" fill="#333"/>
<circle cx="415" cy="568.7" r="1.0" stroke="#000" stroke-width="0.6" fill="#fff"/>
<circle cx="401.1" cy="569.8" r="1.3" stroke="#000" stroke-width="0.9" fill="#fff"/>
<line x1="401.1" y1="568.8" x2="401.1" y2="570.8" stroke="#333" stroke-width="0.6" />
<circle cx="406.7" cy="569.8" r="1.3" stroke="#000" stroke-width="0.9" fill="#fff"/>
<line x1="406.7" y1="568.8" x2="406.7" y2="570.8" stroke="#333" stroke-width="0.6" />
<circle cx="437.2" cy="569.2" r="1.3" stroke="#000" stroke-width="0.9" fill="#fff"/>
<line x1="437.2" y1="568.2" x2="437.2" y2="570.2" stroke="#333" stroke-width="0.6" />
<circle cx="454.4" cy="569.2" r="1.3" stroke="#000" stroke-width="0.9" fill="#fff"/>
<line x1="454.4" y1="568.2" x2="454.4" y2="570.2" stroke="#333" stroke-width="0.6" />
<circle cx="459.4" cy="569.2" r="1.3" stroke="#000" stroke-width="0.9" fill="#fff"/>
<line x1="459.4" y1="568.2" x2="459.4" y2="570.2" stroke="#333" stroke-width="0.6" />
<circle cx="467.8" cy="569.8" r="1.3" stroke="#000" stroke-width="0.9" fill="#fff"/>
<line x1="467.8" y1="568.8" x2="467.8" y2="570.8" stroke="#333" stroke-width="0.6" />
<line x1="460.4" y1="533.4" x2="464.4" y2="538.4" stroke="#000" stroke-width="4.8" stroke-linecap="round"/>
<line x1="460.6" y1="533.7" x2="464" y2="538" stroke="#fff" stroke-width="2.2" stroke-linecap="round"/>
<circle cx="460.5" cy="533.5" r="1.0" stroke="#000" stroke-width="0.8" fill="#fff"/>
<path d="M457.6 535.5 Q458 541.5 462.5 543 L463.6 549 Q461.6 553 463 558 Q464 561 467 562" stroke="#000" stroke-width="1.8" fill="none" />
<path d="M466.8 539.5 Q468 544.5 473 546 L473 561" stroke="#000" stroke-width="1.8" fill="none" />
<path d="M462.5 543 Q466 546.5 470.5 545.2" stroke="#000" stroke-width="1.1" fill="none" />
<ellipse cx="468.4" cy="554.8" rx="5.2" ry="6.8" fill="#fff" stroke="#000" stroke-width="1.9"/>
<ellipse cx="468.4" cy="555.2" rx="3.2" ry="4.7" fill="none" stroke="#000" stroke-width="1.5"/>
<ellipse cx="468.6" cy="556" rx="1.3" ry="2.5" fill="none" stroke="#000" stroke-width="0.9"/>
<path d="M472.6 531.5 L472.6 539 Q474.5 544.5 479 545.5 M476.2 533 L476.2 540.5 M480.2 531.5 L480.2 575.5" stroke="#000" stroke-width="1.5" fill="none" />
<path d="M474.2 535 L478.5 535 M475 548.5 L479.5 548.5 M475 552.5 L479.5 552.5 M475 556.5 L479.5 556.5 M475.3 547 L475.3 560 M477.6 547 L477.6 560" stroke="#000" stroke-width="1.2" fill="none" />
<path d="M477 534 Q478.5 541 481.8 543" stroke="#000" stroke-width="2.2" fill="none" />
<circle cx="478.5" cy="537.5" r="2.4" fill="none" stroke="#000" stroke-width="1.3"/>
<rect x="472.4" y="563" width="7" height="11" rx="2.2" fill="#0a0a0a"/><rect x="474.8" y="567.5" width="2.2" height="4.6" fill="#fff"/>
<rect x="472" y="576" width="2.6" height="2.4" fill="#000"/>
<path d="M378.3 519.6 L386.1 519.6 L386.1 582.6 L383.90 582.6 L383.3 580.8 L381.1 580.8 L380.5 582.6 L378.3 582.6 Z" stroke="#111" stroke-width="1.2" fill="#fff" />
<circle cx="382.2" cy="523.1" r="1.1" stroke="#111" stroke-width="0.9" fill="#bbb"/>
<rect x="380.8" y="533.4" width="2.8" height="5" rx="1.4" fill="#fff" stroke="#111" stroke-width="0.9"/>
<rect x="380.7" y="544.6" width="3" height="11.4" rx="1.5" fill="#fff" stroke="#111" stroke-width="0.9"/>
<rect x="381.2" y="546.6" width="2" height="3.6" fill="#222"/><rect x="381.2" y="552.6" width="2" height="2.4" fill="#222"/>
<rect x="380.8" y="563.4" width="2.8" height="5" rx="1.4" fill="#fff" stroke="#111" stroke-width="0.9"/>
<path d="M482.8 519.6 L490.6 519.6 L490.6 582.6 L488.40 582.6 L487.8 580.8 L485.6 580.8 L485.0 582.6 L482.8 582.6 Z" stroke="#111" stroke-width="1.2" fill="#fff" />
<circle cx="486.7" cy="523.1" r="1.1" stroke="#111" stroke-width="0.9" fill="#bbb"/>
<rect x="485.3" y="533.4" width="2.8" height="5" rx="1.4" fill="#222" stroke="#111" stroke-width="0.9"/>
<rect x="485.2" y="544.6" width="3" height="11.4" rx="1.5" fill="#fff" stroke="#111" stroke-width="0.9"/>
<line x1="485.2" y1="550.5" x2="488.2" y2="550.5" stroke="#111" stroke-width="0.7" />
<rect x="485.3" y="563.4" width="2.8" height="5" rx="1.4" fill="#fff" stroke="#111" stroke-width="0.9"/>
<path d="M491 526.2 L506.6 526.2 Q510.3 526.2 510.3 530 L510.3 572.4 Q510.3 576.2 506.6 576.2 L491 576.2" stroke="#000" stroke-width="2.6" fill="none" />
<rect x="497.4" y="528.4" width="10.2" height="8" rx="1.0" stroke="#000" stroke-width="2.4" fill="#fff" />
<rect x="499.2" y="530" width="6.8" height="4.8" rx="0.3" stroke="#777" stroke-width="0.6" fill="none" stroke-dasharray="1 0.8"/>
<path d="M493.3 527.5 L493.3 536.5 Q493.3 540.6 497.5 540.6 L505.5 540.6 Q509 540.6 509.4 537.5" stroke="#000" stroke-width="3.0" fill="none" />
<path d="M497.8 545.6 L497.8 550.6 Q497.8 553.4 500.6 553.8 Q503.9 554.4 503.9 557.6 L503.9 567.5 Q503.9 571.5 500 573 L497.5 574.2" stroke="#000" stroke-width="2.6" fill="none" />
<path d="M501.2 558.4 L501.2 567 Q501.2 570.6 497.8 571.8 L495 572.8" stroke="#000" stroke-width="1.3" fill="none" />
<path d="M498.9 546.4 L503 550" stroke="#000" stroke-width="1.0" fill="none" />
<rect x="491.6" y="558" width="6.4" height="16" fill="#777"/>
<rect x="492" y="559.5" width="2.5" height="3" fill="#1a1a1a"/>
<rect x="495" y="562.5" width="2.5" height="4" fill="#1a1a1a"/>
<rect x="492.5" y="566" width="2" height="4" fill="#1a1a1a"/>
<rect x="495.5" y="569" width="2" height="3.5" fill="#1a1a1a"/>
<rect x="493" y="556" width="3" height="1.4" fill="#1a1a1a"/>
<rect x="491.6" y="572" width="4" height="2" fill="#1a1a1a"/>
<path d="M491.8 542 L491.8 556 M494 545 L494 555" stroke="#222" stroke-width="1.0" fill="none" />
<rect x="492.6" y="546" width="1" height="1" fill="#111"/><rect x="492.6" y="550" width="1" height="1" fill="#111"/>
<line x1="491.3" y1="578" x2="502" y2="578" stroke="#111" stroke-width="1.0" />
<line x1="342.5" y1="568.3" x2="380" y2="568.3" stroke="#222" stroke-width="0.8" />
<circle cx="503.6" cy="530.9" r="13.2" stroke="#111" stroke-width="1.0" fill="none"/>
<line x1="506.7" y1="517.8" x2="552.2" y2="520.3" stroke="#111" stroke-width="0.9" />
<line x1="498.9" y1="546.4" x2="551.7" y2="595.6" stroke="#111" stroke-width="0.9" />
<defs><clipPath id="dc"><circle cx="577.5" cy="556.5" r="47"/></clipPath></defs>
<path d="M545.7 521.8 A47 47 0 0 0 603.8 595.5" stroke="#111" stroke-width="1.4" fill="none" />
<line x1="545.7" y1="520.3" x2="552.2" y2="520.3" stroke="#111" stroke-width="1.0" />
<g clip-path="url(#dc)">
<line x1="552.2" y1="519.8" x2="552.2" y2="600" stroke="#000" stroke-width="1.9" />
<line x1="557.3" y1="540" x2="557.3" y2="604" stroke="#111" stroke-width="0.8" />
<path d="M552.2 536.7 L593.5 536.7 Q599 536.7 599 542.2 L599 600" stroke="#000" stroke-width="1.7" fill="none" />
<path d="M552.2 539 L592.8 539 Q597.2 539 597.2 543.4 L597.2 600" stroke="#111" stroke-width="0.8" fill="none" />
<path d="M571 535.8 q2 -1.4 4 0" stroke="#111" stroke-width="1.2" fill="none" />
<path d="M593.2 574 L593.2 577.5 Q593.2 582 587.5 582.8 L577 584.2 Q569 585.2 569 593 L569 606" stroke="#000" stroke-width="4.4" fill="none" />
<path d="M593.2 574 L593.2 577.5 Q593.2 582 587.5 582.8 L577 584.2 Q569 585.2 569 593 L569 606" stroke="#fff" stroke-width="3.0" fill="none" />
<path d="M593.2 574 L593.2 577.5 Q593.2 582 587.5 582.8 L577 584.2 Q569 585.2 569 593 L569 606" stroke="#222" stroke-width="1.4" fill="none" />
<path d="M593.2 574 L593.2 577.5 Q593.2 582 587.5 582.8 L577 584.2 Q569 585.2 569 593 L569 606" stroke="#fff" stroke-width="0.5" fill="none" />
<path d="M552.8 541 L558.5 541 Q562.5 541 562.5 545.2 L562.5 559 Q562.5 567.8 571.5 567.8 L586 567.8 Q593.6 567.8 593.6 575.5" stroke="#000" stroke-width="6.0" fill="none" />
<path d="M552.8 541 L558.5 541 Q562.5 541 562.5 545.2 L562.5 559 Q562.5 567.8 571.5 567.8 L586 567.8 Q593.6 567.8 593.6 575.5" stroke="#fff" stroke-width="4.5" fill="none" />
<path d="M552.8 541 L558.5 541 Q562.5 541 562.5 545.2 L562.5 559 Q562.5 567.8 571.5 567.8 L586 567.8 Q593.6 567.8 593.6 575.5" stroke="#222" stroke-width="3.3" fill="none" />
<path d="M552.8 541 L558.5 541 Q562.5 541 562.5 545.2 L562.5 559 Q562.5 567.8 571.5 567.8 L586 567.8 Q593.6 567.8 593.6 575.5" stroke="#fff" stroke-width="2.3" fill="none" />
<path d="M552.8 541 L558.5 541 Q562.5 541 562.5 545.2 L562.5 559 Q562.5 567.8 571.5 567.8 L586 567.8 Q593.6 567.8 593.6 575.5" stroke="#222" stroke-width="0.9" fill="none" />
<rect x="560" y="547.5" width="5" height="11" fill="#777" opacity="0.8"/>
<rect x="571" y="565.3" width="15" height="5" fill="#777" opacity="0.8"/>
<rect x="568.3" y="542.6" width="25" height="19.1" rx="2.2" stroke="#222" stroke-width="0.9" fill="none" stroke-dasharray="3 0.5"/>
<rect x="567.60" y="541.10" width="1.4" height="1.4" fill="#111"/>
<rect x="580.10" y="542.3" width="1.4" height="1.4" fill="#111"/>
<rect x="580.10" y="560.70" width="1.4" height="1.4" fill="#111"/>
<rect x="568.20" y="551.3" width="1.4" height="1.4" fill="#111"/>
<rect x="592.10" y="551.3" width="1.4" height="1.4" fill="#111"/>
<rect x="592.8" y="561.3" width="1.4" height="1.4" fill="#111"/>
<line x1="594.5" y1="588.8" x2="598" y2="588.8" stroke="#111" stroke-width="2.4" stroke-linecap="round"/>
<line x1="600" y1="588.3" x2="601.5" y2="589.3" stroke="#111" stroke-width="1.8" stroke-linecap="round"/>
<line x1="594.5" y1="594" x2="598" y2="594" stroke="#111" stroke-width="2.4" stroke-linecap="round"/>
<line x1="600" y1="593.5" x2="601.5" y2="594.5" stroke="#111" stroke-width="1.8" stroke-linecap="round"/>
<path d="M594 576 L597.5 576 L597.5 586 M595 579 l2 0 M595 582.5 l2 0" stroke="#111" stroke-width="0.9" fill="none" />
<rect x="554" y="581.6" width="1.6" height="1.6" fill="#111"/>
<rect x="558.5" y="596.6" width="2.6" height="2.2" fill="#111"/>
</g>
<circle cx="542.2" cy="529.5" r="2.6" stroke="#111" stroke-width="1.0" fill="none"/>
<g transform="rotate(12 542.2 561)"><ellipse cx="542.2" cy="561" rx="3.9" ry="6.6" fill="#fff" stroke="#111" stroke-width="1.1"/><path d="M539 557.5 q3 -2.6 6 -0.6 M538.6 560.6 q3.6 -2.6 7.2 -0.4 M538.8 563.8 q3.4 -2.4 6.8 -0.2" stroke="#111" stroke-width="1.0" fill="none"/></g>
<path d="M541.5 583 l3 -1.6 l1.4 2.8 l-2.8 1.2 z" stroke="#111" stroke-width="0.8" fill="none" />
<line x1="568.3" y1="525.3" x2="622.8" y2="525.3" stroke="#111" stroke-width="0.9" />
<line x1="568.3" y1="525.3" x2="568.3" y2="542.2" stroke="#111" stroke-width="0.9" />
<line x1="593" y1="525.3" x2="593" y2="536.7" stroke="#111" stroke-width="0.9" />
<line x1="594.5" y1="525.3" x2="594.5" y2="536.7" stroke="#111" stroke-width="0.9" />
<line x1="599.4" y1="525.3" x2="599.4" y2="536.7" stroke="#111" stroke-width="0.9" />
<line x1="599" y1="536.7" x2="633.3" y2="536.7" stroke="#111" stroke-width="0.9" />
<line x1="598.9" y1="542.6" x2="633.3" y2="542.6" stroke="#111" stroke-width="0.9" />
<line x1="593.3" y1="561.7" x2="633.3" y2="561.7" stroke="#111" stroke-width="0.9" />
<line x1="632.8" y1="513.3" x2="632.8" y2="562.2" stroke="#111" stroke-width="0.9" />
<text transform="translate(580.9 524.2) scale(0.912 1)" font-size="8.40" text-anchor="middle" stroke="#111" stroke-width="0.3" >62.6</text>
<text transform="translate(612.8 524.2) scale(0.912 1)" font-size="8.40" text-anchor="middle" stroke="#111" stroke-width="0.3" >15.2</text>
<text transform="translate(629.4 523.9) rotate(-90) scale(0.912 1)" font-size="8.40" text-anchor="middle" dy="3.02" stroke="#111" stroke-width="0.3" >15.6</text>
<text transform="translate(629.4 553.3) rotate(-90) scale(0.912 1)" font-size="8.40" text-anchor="middle" dy="3.02" stroke="#111" stroke-width="0.3" >47.6</text>
</g>
</g>
</svg>
</body></html>
